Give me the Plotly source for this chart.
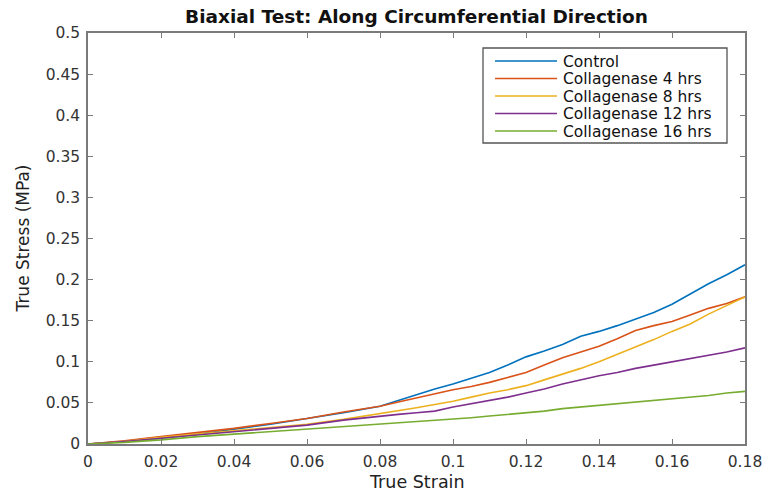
import plotly.graph_objects as go

strain = [0, 0.01, 0.02, 0.03, 0.04, 0.05, 0.06, 0.07, 0.08,
          0.085, 0.09, 0.095, 0.10, 0.105, 0.11, 0.115, 0.12, 0.125, 0.13,
          0.135, 0.14, 0.145, 0.15, 0.155, 0.16, 0.165, 0.17, 0.175, 0.18]

control = [0, .003, .007, .012, .018, .024, .031, .038, .046,
           .053, .060, .067, .073, .080, .087, .096, .106, .113, .121,
           .131, .137, .144, .152, .160, .170, .183, .195, .206, .218]
coll4 = [0, .004, .009, .014, .019, .025, .031, .039, .046,
         .051, .056, .061, .066, .070, .075, .081, .087, .096, .105,
         .112, .119, .128, .138, .144, .149, .157, .165, .171, .179]
coll8 = [0, .003, .008, .012, .016, .020, .024, .030, .037,
         .040, .044, .048, .052, .057, .062, .066, .071, .078, .085,
         .092, .100, .109, .118, .127, .137, .146, .158, .169, .179]
coll12 = [0, .003, .007, .011, .015, .019, .023, .029, .034,
          .036, .038, .040, .045, .049, .053, .057, .062, .067, .073,
          .078, .083, .087, .092, .096, .100, .104, .108, .112, .117]
coll16 = [0, .002, .005, .009, .012, .015, .018, .021, .024,
          .0255, .027, .029, .030, .032, .034, .036, .038, .040, .043,
          .045, .047, .049, .051, .053, .055, .057, .059, .062, .064]

names = ["Control", "Collagenase 4 hrs", "Collagenase 8 hrs",
         "Collagenase 12 hrs", "Collagenase 16 hrs"]
series = [control, coll4, coll8, coll12, coll16]
colors = ["#0072BD", "#D95319", "#EDB120", "#7E2F8E", "#77AC30"]

x_ticks = [0, 0.02, 0.04, 0.06, 0.08, 0.1, 0.12, 0.14, 0.16, 0.18]
x_labels = ["0", "0.02", "0.04", "0.06", "0.08", "0.1", "0.12", "0.14", "0.16", "0.18"]
y_ticks = [0, 0.05, 0.1, 0.15, 0.2, 0.25, 0.3, 0.35, 0.4, 0.45, 0.5]
y_labels = ["0", "0.05", "0.1", "0.15", "0.2", "0.25", "0.3", "0.35", "0.4", "0.45", "0.5"]

FONT = "DejaVu Sans"
W, H = 766, 492
ML, MR, MT, MB = 88, 21, 33, 48
PW, PH = W - ML - MR, H - MT - MB


def px_x(px):
    return (px - ML) / PW


def px_y(py):
    return (H - MB - py) / PH


fig = go.Figure()
for n, s, c in zip(names, series, colors):
    fig.add_trace(go.Scatter(x=strain, y=s, mode="lines", name=n,
                             line=dict(color=c, width=1.6), showlegend=False))

axis_common = dict(showgrid=False, zeroline=False, showline=True,
                   linecolor="#7a7a7a", linewidth=1.5, mirror="ticks",
                   ticks="inside", ticklen=5, tickcolor="#7a7a7a", tickwidth=1.2,
                   automargin=False, ticklabelstandoff=3,
                   tickfont=dict(family=FONT, size=15.5, color="#333333"))

shapes = []
annotations = []

# manual legend (box, sample lines, labels)
shapes.append(dict(type="rect", xref="paper", yref="paper",
                   x0=px_x(483), x1=px_x(727), y0=px_y(143), y1=px_y(48),
                   line=dict(color="#555555", width=1.3), fillcolor="white", layer="above"))
row_y = [61, 78.5, 96, 113.5, 131]
for n, c, ry in zip(names, colors, row_y):
    shapes.append(dict(type="line", xref="paper", yref="paper",
                       x0=px_x(495), x1=px_x(557), y0=px_y(ry), y1=px_y(ry),
                       line=dict(color=c, width=1.6), layer="above"))
    annotations.append(dict(text=n, xref="paper", yref="paper",
                            x=px_x(562), y=px_y(ry), xanchor="left", yanchor="middle",
                            showarrow=False, height=17, valign="middle", borderpad=0,
                            font=dict(family=FONT, size=15.5, color="#111111")))

# axis titles
annotations.append(dict(text="True Strain", xref="paper", yref="paper",
                        x=0.5, y=px_y(482), xanchor="center", yanchor="middle",
                        showarrow=False, font=dict(family=FONT, size=17.5, color="#222222")))
annotations.append(dict(text="True Stress (MPa)", xref="paper", yref="paper",
                        x=px_x(22), y=0.5, xanchor="center", yanchor="middle",
                        textangle=-90, showarrow=False,
                        font=dict(family=FONT, size=17, color="#222222")))

fig.update_layout(
    width=W, height=H,
    margin=dict(l=ML, r=MR, t=MT, b=MB),
    paper_bgcolor="white", plot_bgcolor="white",
    title=dict(text="<b>Biaxial Test: Along Circumferential Direction</b>",
               x=0.5, xanchor="center", xref="paper", y=1 - 17 / H, yanchor="middle",
               font=dict(family=FONT, size=18.5, color="#111111")),
    xaxis=dict(range=[0, 0.18], tickvals=x_ticks, ticktext=x_labels, **axis_common),
    yaxis=dict(range=[0, 0.5], tickvals=y_ticks, ticktext=y_labels, **axis_common),
    shapes=shapes,
    annotations=annotations,
    showlegend=False,
)

fig.write_html("out.html", config={"displayModeBar": False},
               post_script="document.body.style.margin='0';document.body.style.overflow='hidden';")
